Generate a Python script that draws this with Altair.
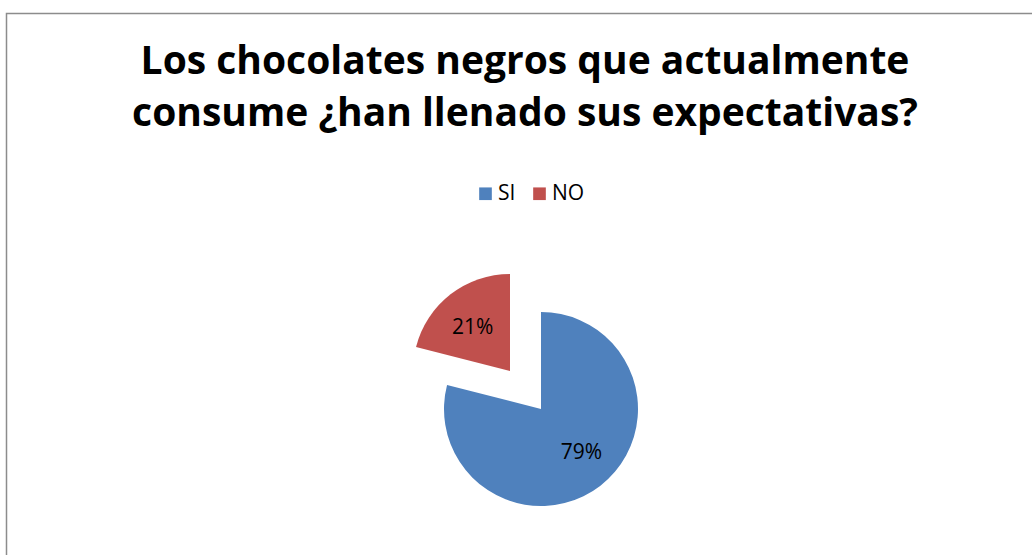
import altair as alt
import pandas as pd

# Data
categories = ["SI", "NO"]
values = [79, 21]
labels = ["79%", "21%"]
colors = ["#4F81BD", "#C0504D"]
title_lines = ["Los chocolates negros que actualmente",
               "consume ¿han llenado sus expectativas?"]

df = pd.DataFrame({"cat": categories, "value": values, "label": labels,
                   "order": list(range(len(categories)))})

FONT = "Open Sans"
R = 97
CX, CY = 541, 409          # centre of SI slice
NX, NY = 510, 371          # centre of the exploded NO slice

theta_scale = alt.Scale(domain=[0, 100], range=[0, 6.283185307])
color_scale = alt.Scale(domain=categories, range=colors)

base = (
    alt.Chart(df)
    .transform_window(cum="sum(value)", frame=[None, 0], sort=[alt.SortField("order")])
    .transform_calculate(start="datum.cum - datum.value",
                         mid="datum.cum - datum.value / 2")
)

def slice_layer(cat, cx, cy, show_legend, ldx, ldy):
    b = base.transform_filter(alt.datum.cat == cat)
    arc = b.mark_arc(outerRadius=R, x=cx, y=cy).encode(
        theta=alt.Theta("start:Q", scale=theta_scale),
        theta2="cum:Q",
        color=alt.Color(
            "cat:N", scale=color_scale,
            legend=alt.Legend(
                orient="none", legendX=475, legendY=183, direction="horizontal",
                title=None, symbolType="square", symbolSize=160,
                symbolStrokeWidth=0, labelFont=FONT, labelFontSize=21,
                labelColor="black", columnPadding=13, labelOffset=2, padding=0,
            ) if show_legend else None,
        ),
    )
    txt = b.mark_text(radius=61, x=cx, y=cy, dx=ldx, dy=ldy, font=FONT,
                      fontSize=21, color="black").encode(
        theta=alt.Theta("mid:Q", scale=theta_scale),
        text="label:N",
    )
    return arc + txt

border = alt.Chart(alt.Data(values=[{}])).mark_rect(
    fill=None, stroke="#8c8c8c", strokeWidth=1.5
).encode(x=alt.value(6.5), y=alt.value(13.5), x2=alt.value(1100), y2=alt.value(620))

chart = alt.layer(
    border,
    slice_layer("SI", CX, CY, True, 3, -4),
    slice_layer("NO", NX, NY, False, 0, 5),
).properties(
    width=1032, height=555,
    autosize=alt.AutoSizeParams(type="none"),
    padding=0,
    title=alt.TitleParams(
        text=title_lines, font=FONT, fontSize=39, fontWeight="bold",
        color="black", anchor="middle", baseline="alphabetic",
        lineHeight=52, dx=9, dy=165, offset=0,
    ),
).configure_view(stroke=None)

chart.save("out.html", embed_options={"renderer": "svg", "actions": False})
